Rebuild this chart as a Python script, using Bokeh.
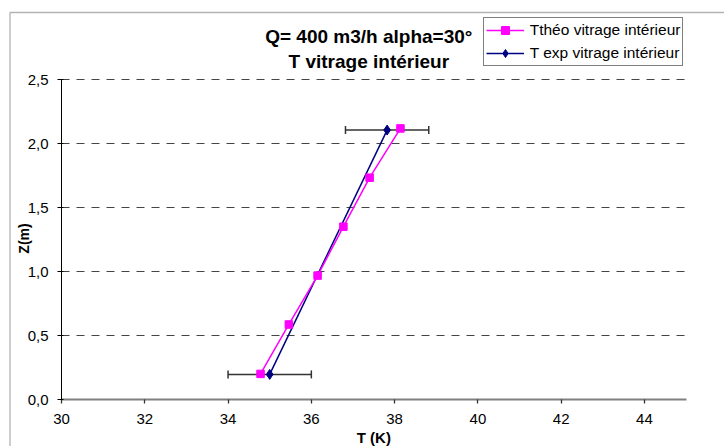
import math
from bokeh.plotting import figure
from bokeh.models import (Range1d, Legend, LegendItem, Label, Whisker, ColumnDataSource,
                          TeeHead, FixedTicker, BoxAnnotation)
from bokeh.embed import file_html
from bokeh.resources import INLINE

# ---- data ----
t_theo = [34.78, 35.46, 36.15, 36.77, 37.40, 38.14]
z_theo = [0.20, 0.586, 0.968, 1.35, 1.733, 2.118]
t_exp = [35.00, 37.82]
z_exp = [0.196, 2.105]
t_exp_err = [1.0, 1.0]

x_min, x_max = 30, 45
y_min, y_max = 0.0, 2.5
x_ticks = [30, 32, 34, 36, 38, 40, 42, 44]
x_tick_labels = ["30", "32", "34", "36", "38", "40", "42", "44"]
y_ticks = [0.0, 0.5, 1.0, 1.5, 2.0, 2.5]
y_tick_labels = ["0,0", "0,5", "1,0", "1,5", "2,0", "2,5"]

title_lines = ["Q= 400 m3/h alpha=30°", "T vitrage intérieur"]
x_label = "T (K)"
y_label = "Z(m)"
series_names = ["Tthéo vitrage intérieur", "T exp vitrage intérieur"]

FONT = "Liberation Sans"

# ---- layout: the frame fills the whole canvas; axes are fixed inside it ----
W, H = 724, 446
X0_PX, PX_PER_X = 61.0, 41.64      # pixel of T=30 and pixels per kelvin
Y0_PX, PX_PER_Y = 399.0, 128.0     # pixel of Z=0 and pixels per metre


def dx(px):
    return x_min + (px - X0_PX) / PX_PER_X


def dy(py):
    return y_min + (Y0_PX - py) / PX_PER_Y


p = figure(width=W, height=H, output_backend="svg", toolbar_location=None,
           x_range=Range1d(dx(0), dx(W)), y_range=Range1d(dy(H), dy(0)),
           min_border=0, min_border_left=0, min_border_right=0,
           min_border_top=0, min_border_bottom=0,
           background_fill_color="white", border_fill_color="white")
p.outline_line_color = None

# outer chart border (top and left visible)
p.add_layout(BoxAnnotation(left=dx(9.5), top=dy(12), right=dx(W + 20), bottom=dy(H + 20),
                           fill_alpha=0, line_color="black", line_width=1.3))

# grid: dashed horizontal lines only across the plot area
p.xgrid.grid_line_color = None
p.ygrid.grid_line_color = None
grid_y = [v for v in y_ticks if v > y_min]
p.segment(x0=[x_min] * len(grid_y), x1=[x_max] * len(grid_y), y0=grid_y, y1=grid_y,
          line_color="#444444", line_dash="8 7", line_width=1.2)

# x axis
xa = p.xaxis[0]
xa.fixed_location = y_min
xa.bounds = (x_min, x_max)
xa.ticker = FixedTicker(ticks=x_ticks)
xa.major_label_overrides = {t: l for t, l in zip(x_ticks, x_tick_labels)}
xa.axis_line_color = "#808080"
xa.axis_line_width = 2.2
xa.major_tick_in = 0
xa.major_tick_out = 4
xa.major_tick_line_color = "#333333"
xa.major_tick_line_width = 1.3
xa.minor_tick_line_color = None
xa.major_label_text_font = FONT
xa.major_label_text_font_size = "15px"
xa.major_label_text_color = "black"
xa.major_label_standoff = 10

# y axis
ya = p.yaxis[0]
ya.fixed_location = x_min
ya.bounds = (y_min, y_max)
ya.ticker = FixedTicker(ticks=y_ticks)
ya.major_label_overrides = {t: l for t, l in zip(y_ticks, y_tick_labels)}
ya.axis_line_color = "black"
ya.axis_line_width = 1
ya.major_tick_in = 2
ya.major_tick_out = 4
ya.major_tick_line_color = "black"
ya.minor_tick_line_color = None
ya.major_label_text_font = FONT
ya.major_label_text_font_size = "15px"
ya.major_label_text_color = "black"
ya.major_label_standoff = 9

# error bars on experimental series
err_src = ColumnDataSource(dict(
    base=z_exp,
    lower=[t - e for t, e in zip(t_exp, t_exp_err)],
    upper=[t + e for t, e in zip(t_exp, t_exp_err)],
))
wh = Whisker(source=err_src, base="base", lower="lower", upper="upper", dimension="width",
             line_color="#333333", line_width=1.5,
             upper_head=TeeHead(size=8, line_color="#333333", line_width=1.5),
             lower_head=TeeHead(size=8, line_color="#333333", line_width=1.5))
p.add_layout(wh)

# series
exp_line = p.line(t_exp, z_exp, line_color="#000080", line_width=1.5)
exp_mark = p.scatter(t_exp, z_exp, marker="diamond", size=10, fill_color="#000080",
                     line_color="#000080")
theo_line = p.line(t_theo, z_theo, line_color="#FF00FF", line_width=1.5)
theo_mark = p.scatter(t_theo, z_theo, marker="square", size=7.5, fill_color="#FF00FF",
                      line_color="#FF00FF")

legend = Legend(items=[LegendItem(label=series_names[0], renderers=[theo_line, theo_mark]),
                       LegendItem(label=series_names[1], renderers=[exp_line, exp_mark])],
                location=(482.7, H - 66), orientation="vertical",
                border_line_color="black", border_line_width=1,
                background_fill_color="white", background_fill_alpha=1,
                label_text_font=FONT, label_text_font_size="15.5px", label_text_color="black",
                glyph_width=38, glyph_height=20, label_height=20, label_standoff=6,
                spacing=3, padding=2, margin=0)
p.add_layout(legend, "center")

# titles
for txt, py in zip(title_lines, [35.7, 60.5]):
    p.add_layout(Label(x=dx(368.3), y=dy(py), text=txt, text_align="center",
                       text_baseline="middle", text_font=FONT, text_font_size="19px",
                       text_font_style="bold", text_color="black"))

# axis titles
p.add_layout(Label(x=(x_min + x_max) / 2, y=dy(436.5), text=x_label, text_align="center",
                   text_baseline="middle", text_font=FONT, text_font_size="15px",
                   text_font_style="bold", text_color="black"))
p.add_layout(Label(x=dx(23.7), y=dy(238), text=y_label, angle=math.pi / 2,
                   text_align="center", text_baseline="middle",
                   text_font=FONT, text_font_size="14px", text_font_style="bold",
                   text_color="black"))

open("out.html", "w").write(file_html(p, INLINE))
